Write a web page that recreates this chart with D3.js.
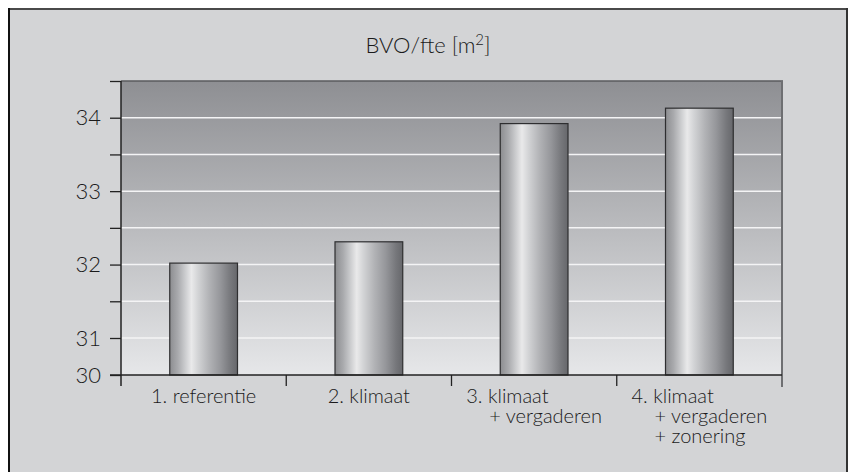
<!DOCTYPE html>
<html>
<head>
<meta charset="utf-8">
<script src="https://cdn.jsdelivr.net/npm/d3@7"></script>
<style>
  html, body { margin: 0; padding: 0; background: #ffffff; }
  svg { display: block; font-family: Lato, "Open Sans", sans-serif; font-weight: 300; }
</style>
</head>
<body>
<div id="chart"></div>
<script>
// data
let categories = ["1", "2", "3", "4"];
let labels = [
    ["1. referentie"],
    ["2. klimaat"],
    ["3. klimaat", "+ vergaderen"],
    ["4. klimaat", "+ vergaderen", "+ zonering"]
];
let values = [32.02, 32.31, 33.92, 34.13];
let tickValues = [30, 31, 31.5, 32, 32.5, 33, 33.5, 34, 34.5];
let gridValues = [31, 31.5, 32, 32.5, 33, 33.5, 34];

let width = 854, height = 472;
let plot = {left: 121, right: 782, top: 81, bottom: 375};

let svg = d3.select("#chart").append("svg")
    .attr("width", width)
    .attr("height", height);

let defs = svg.append("defs");

// plot background, dark at the top, light at the bottom
let bg = defs.append("linearGradient")
    .attr("id", "plot_bg")
    .attr("x1", 0).attr("y1", 0).attr("x2", 0).attr("y2", 1);
bg.append("stop").attr("offset", "0%").attr("stop-color", "#8e8f93");
bg.append("stop").attr("offset", "100%").attr("stop-color", "#e6e7e9");

// cylinder look for the bars
let barGrad = defs.append("linearGradient")
    .attr("id", "bar_fill")
    .attr("x1", 0).attr("y1", 0).attr("x2", 1).attr("y2", 0);
[["0%", "#8c8d90"], ["12%", "#a9aaad"], ["24%", "#cfd0d2"], ["32%", "#e9e9ea"],
 ["42%", "#d2d3d5"], ["58%", "#b2b3b6"], ["75%", "#95969a"], ["90%", "#76777b"], ["100%", "#66676b"]]
    .forEach(function (s) {
        barGrad.append("stop").attr("offset", s[0]).attr("stop-color", s[1]);
    });

// outer frame
svg.append("rect")
    .attr("x", 9).attr("y", 9)
    .attr("width", 838).attr("height", 480)
    .attr("fill", "#d3d4d6");
svg.append("line").attr("x1", 9).attr("y1", 9).attr("x2", 847).attr("y2", 9)
    .attr("stroke", "#4a4a4a").attr("stroke-width", 2);
svg.append("line").attr("x1", 9).attr("y1", 8).attr("x2", 9).attr("y2", 472)
    .attr("stroke", "#111").attr("stroke-width", 2);
svg.append("line").attr("x1", 847).attr("y1", 8).attr("x2", 847).attr("y2", 472)
    .attr("stroke", "#333").attr("stroke-width", 2);

// title
let title = svg.append("text")
    .attr("x", 428).attr("y", 53)
    .attr("text-anchor", "middle")
    .attr("font-size", 22)
    .attr("fill", "#1a1a1a")
    .text("BVO/fte [m");
title.append("tspan").attr("font-size", 15).attr("dy", -8).text("2");
title.append("tspan").attr("dy", 8).text("]");

let x = d3.scaleBand()
    .domain(categories)
    .range([plot.left, plot.right])
    .paddingInner(0.59)
    .paddingOuter(0.295);

// broken axis: the bottom label 30 sits half a unit below 31
let y = d3.scaleLinear()
    .domain([30, 31, 34.5])
    .range([plot.bottom, 338, plot.top]);

svg.append("rect")
    .attr("x", plot.left).attr("y", plot.top)
    .attr("width", plot.right - plot.left)
    .attr("height", plot.bottom - plot.top)
    .attr("fill", "url(#plot_bg)");

// grid lines
svg.append("g")
    .selectAll("line")
    .data(gridValues)
    .enter().append("line")
    .attr("x1", plot.left).attr("x2", plot.right)
    .attr("y1", function (d) { return y(d); })
    .attr("y2", function (d) { return y(d); })
    .attr("stroke", "#f4f4f5")
    .attr("stroke-width", 1.5);

// top and right edges of the plot
svg.append("line").attr("x1", plot.left).attr("x2", plot.right + 1)
    .attr("y1", plot.top).attr("y2", plot.top)
    .attr("stroke", "#5a5b5e").attr("stroke-width", 1.5);
svg.append("line").attr("x1", plot.right).attr("x2", plot.right)
    .attr("y1", plot.top).attr("y2", plot.bottom + 12)
    .attr("stroke", "#6e6f72").attr("stroke-width", 2);

// bars
svg.append("g")
    .selectAll("rect")
    .data(values)
    .enter().append("rect")
    .attr("x", function (d, i) { return x(categories[i]); })
    .attr("y", function (d) { return y(d); })
    .attr("width", x.bandwidth())
    .attr("height", function (d) { return plot.bottom - y(d); })
    .attr("fill", "url(#bar_fill)")
    .attr("stroke", "#2e2e30")
    .attr("stroke-width", 1.2);

// y axis
let yAxis = svg.append("g")
    .attr("transform", "translate(" + plot.left + ",0)")
    .call(d3.axisLeft(y)
        .tickValues(tickValues)
        .tickSize(11)
        .tickPadding(9)
        .tickFormat(function (d) { return d % 1 === 0 && d < 34.5 ? d : ""; }));
yAxis.select(".domain").remove();
yAxis.selectAll(".tick line").attr("stroke", "#222").attr("stroke-width", 1.3);
yAxis.selectAll(".tick text")
    .attr("font-size", 22)
    .attr("fill", "#1a1a1a")
    .attr("font-family", "Lato, 'Open Sans', sans-serif");
svg.append("line").attr("x1", plot.left).attr("x2", plot.left)
    .attr("y1", plot.top).attr("y2", plot.bottom + 11)
    .attr("stroke", "#222").attr("stroke-width", 1.5);

// x axis
svg.append("line").attr("x1", plot.left - 11).attr("x2", plot.right)
    .attr("y1", plot.bottom).attr("y2", plot.bottom)
    .attr("stroke", "#222").attr("stroke-width", 1.5);
let step = x.step();
let edges = categories.map(function (c) { return x(c) + x.bandwidth() / 2 - step / 2; });
svg.append("g")
    .selectAll("line")
    .data(edges.slice(1))
    .enter().append("line")
    .attr("x1", function (d) { return d; })
    .attr("x2", function (d) { return d; })
    .attr("y1", plot.bottom).attr("y2", plot.bottom + 11)
    .attr("stroke", "#222").attr("stroke-width", 1.3);

// category labels, first line flush, later lines indented
let labelGroups = svg.append("g")
    .selectAll("g")
    .data(labels)
    .enter().append("g");

labelGroups.each(function (lines, i) {
    let g = d3.select(this);
    lines.forEach(function (line, j) {
        g.append("text")
            .attr("x", j === 0 ? 0 : 23)
            .attr("y", 403 + j * 20)
            .attr("font-size", 20)
            .attr("fill", "#1a1a1a")
            .text(line);
    });
    let box = this.getBBox();
    let cx = x(categories[i]) + x.bandwidth() / 2;
    g.attr("transform", "translate(" + (cx - box.width / 2) + ",0)");
});
</script>
</body>
</html>
